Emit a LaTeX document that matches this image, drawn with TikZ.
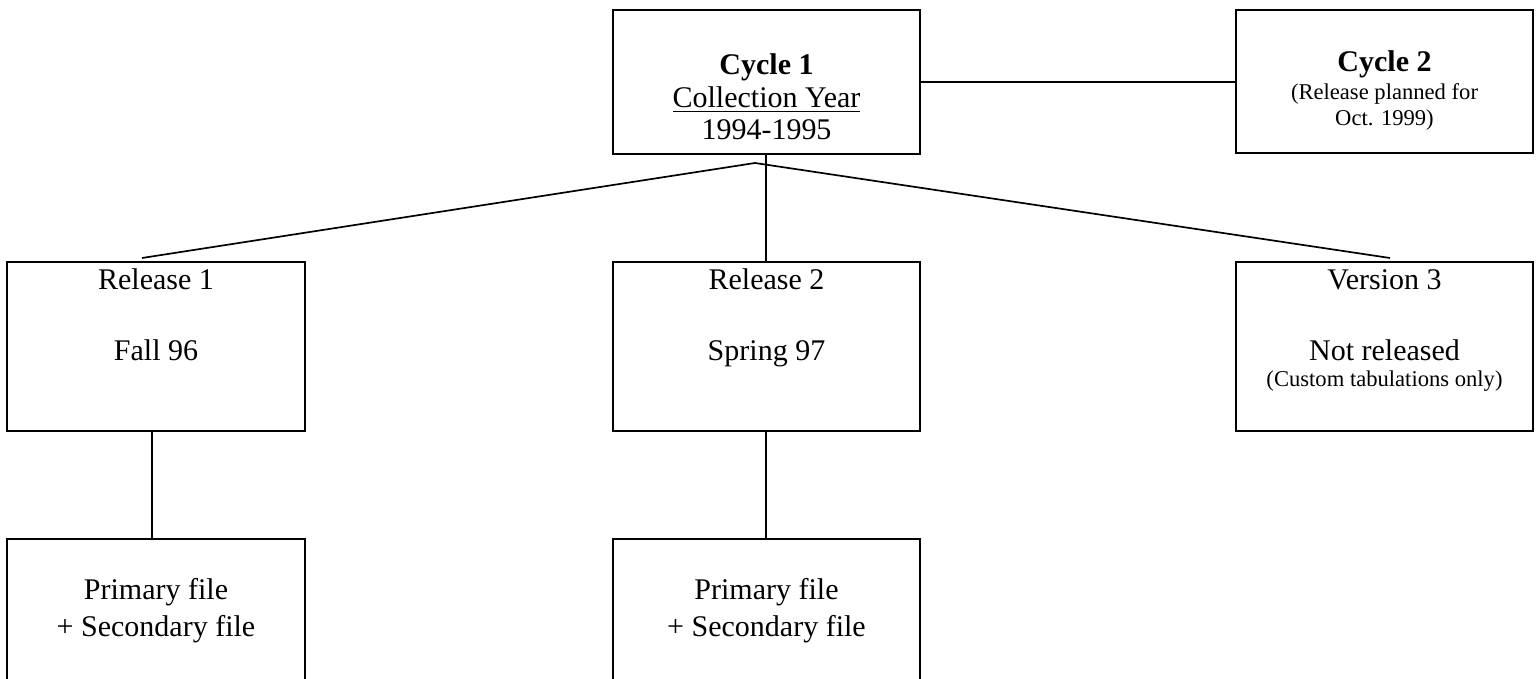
\documentclass[tikz,border=0pt]{standalone}
\usepackage{fontspec}
\setmainfont{Liberation Serif}
\begin{document}
\begin{tikzpicture}[x=0.5pt,y=-0.5pt,
  box/.style={draw=black,line width=0.85pt,rectangle,inner sep=0pt},
  big/.style={font=\fontsize{15}{18}\selectfont,anchor=base,inner sep=0pt},
  bigb/.style={font=\fontsize{15}{18}\selectfont\bfseries,anchor=base,inner sep=0pt},
  small/.style={font=\fontsize{11.3}{13}\selectfont,anchor=base,inner sep=0pt},
  link/.style={draw=black,line width=0.85pt}]
\useasboundingbox (0,0) rectangle (1539,679);
\clip (0,0) rectangle (1539,679);
% boxes
\node[box,minimum width=153.5pt,minimum height=72pt] (c1) at (766.5,82) {};
\node[box,minimum width=148.5pt,minimum height=71.5pt] (c2) at (1384.5,81.5) {};
\node[box,minimum width=149pt,minimum height=84.5pt] (r1) at (156,346.5) {};
\node[box,minimum width=153.5pt,minimum height=84.5pt] (r2) at (766.5,346.5) {};
\node[box,minimum width=148.5pt,minimum height=84.5pt] (v3) at (1384.5,346.5) {};
\node[box,minimum width=149pt,minimum height=90.5pt] (p1) at (156,629.5) {};
\node[box,minimum width=153.5pt,minimum height=90.5pt] (p2) at (766.5,629.5) {};
% texts
\node[bigb] (c1a) at (766.5,75) {Cycle 1};
\node[big] (c1b) at (766.5,108) {\underline{Collection Year}};
\node[big] (c1c) at (766.5,140) {1994-1995};
\node[bigb] (c2a) at (1384.5,72) {Cycle 2};
\node[small] (c2b) at (1384.5,100) {(Release planned for};
\node[small] (c2c) at (1384.5,126) {Oct. 1999)};
\node[big] (r1a) at (156,290) {Release 1};
\node[big] (r1b) at (156,361) {Fall 96};
\node[big] (r2a) at (766.5,290) {Release 2};
\node[big] (r2b) at (766.5,361) {Spring 97};
\node[big] (v3a) at (1384.5,290) {Version 3};
\node[big] (v3b) at (1384.5,361) {Not released};
\node[small] (v3c) at (1384.5,387) {(Custom tabulations only)};
\node[big] (p1a) at (156,600) {Primary file};
\node[big] (p1b) at (156,637) {+ Secondary file};
\node[big] (p2a) at (766.5,600) {Primary file};
\node[big] (p2b) at (766.5,637) {+ Secondary file};
% connectors
\coordinate (apex) at (755,163);
\coordinate (r1end) at (142,258);
\coordinate (v3end) at (1390,258);
\draw[link] (c1.east) -- (c2.west |- c1.east);
\draw[link] (r1end) -- (apex) -- (v3end);
\draw[link] (c1.south -| 766,0) -- (r2.north -| 766,0);
\draw[link] (r1.south -| 152,0) -- (p1.north -| 152,0);
\draw[link] (r2.south -| 766,0) -- (p2.north -| 766,0);
\end{tikzpicture}
\end{document}
